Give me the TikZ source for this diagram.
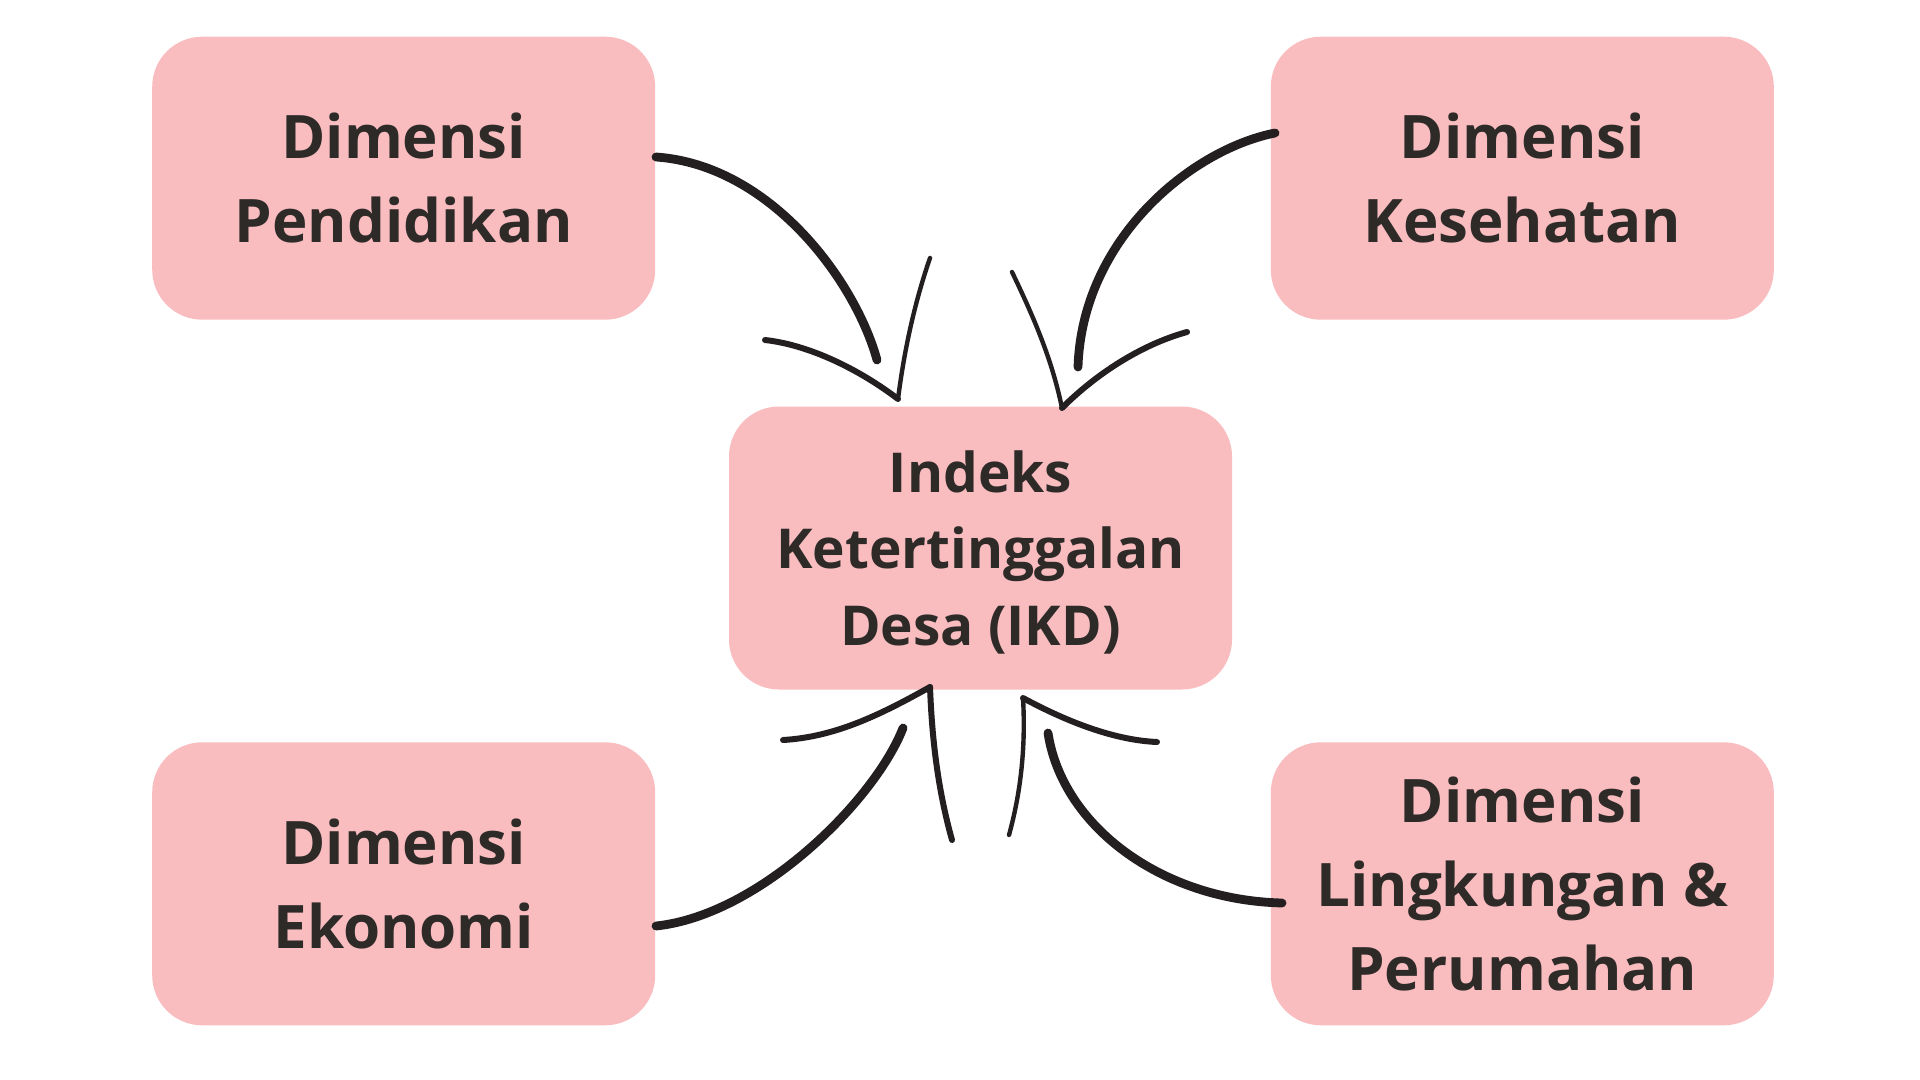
\documentclass[tikz,border=0pt]{standalone}
\usepackage{fontspec}
\setmainfont{Open Sans}
\usepackage{tikz}
\usetikzlibrary{positioning}
\definecolor{boxpink}{RGB}{249, 189, 192}
\definecolor{textdark}{RGB}{45, 42, 40}
\definecolor{inkblack}{RGB}{35, 31, 32}

\begin{document}
\begin{tikzpicture}[
    x=0.5pt, y=-0.5pt,
    dimbox/.style={rectangle, fill=boxpink, rounded corners=25pt, inner sep=0pt, minimum width=251.5pt, minimum height=141.5pt, align=center, text=textdark, font=\fontsize{30}{42}\selectfont\bfseries},
    ikdbox/.style={dimbox, font=\fontsize{27.5}{38.3}\selectfont\bfseries},
    shaft/.style={draw=inkblack, line width=4.4pt, line cap=round},
    barb/.style={draw=inkblack, line width=3pt, line cap=round},
    thinbarb/.style={barb, line width=2.2pt}
  ]
    \useasboundingbox (0,0) rectangle (1920,1080);

    \node (ikd) [ikdbox] at (980.5,548) {\rule{0pt}{25pt}Indeks\\Ketertinggalan\\Desa (IKD)};
    \node (pend) [dimbox, above left=43pt and 36.5pt of ikd] {Dimensi\\Pendidikan};
    \node (kes) [dimbox, above right=43pt and 19pt of ikd] {Dimensi\\Kesehatan};
    \node (eko) [dimbox, below left=26pt and 36.5pt of ikd] {Dimensi\\Ekonomi};
    \node (ling) [dimbox, below right=26pt and 19pt of ikd] {Dimensi\\Lingkungan \&\\Perumahan};

    % arrow starts and tips
    \coordinate (pend-out) at (656,157);
    \coordinate (kes-out) at (1275,133);
    \coordinate (eko-out) at (656,926);
    \coordinate (ling-out) at (1282,903);
    \coordinate (tip-pend) at (898,399);
    \coordinate (tip-kes) at (1062,408);
    \coordinate (tip-eko) at (930,687);
    \coordinate (tip-ling) at (1023,698);

    % Pendidikan
    \draw[shaft] (pend-out) .. controls (770,165) and (855,280) .. (877,360);
    \draw[barb] (765,340) .. controls (810,345) and (860,370) .. (tip-pend);
    \draw[thinbarb] (tip-pend) .. controls (903,360) and (912,310) .. (930,258);

    % Kesehatan
    \draw[shaft] (kes-out) .. controls (1190,150) and (1082,240) .. (1078,367);
    \draw[thinbarb] (1012,272) .. controls (1035,320) and (1052,360) .. (tip-kes);
    \draw[barb] (tip-kes) .. controls (1095,375) and (1140,345) .. (1187,332);

    % Ekonomi
    \draw[shaft] (eko-out) .. controls (760,915) and (875,800) .. (903,728);
    \draw[barb] (783,740) .. controls (835,737) and (880,715) .. (tip-eko);
    \draw[barb] (tip-eko) .. controls (932,740) and (938,790) .. (952,840);

    % Lingkungan & Perumahan
    \draw[shaft] (ling-out) .. controls (1160,900) and (1062,825) .. (1048,733);
    \draw[thinbarb] (1009,835) .. controls (1020,795) and (1026,750) .. (tip-ling);
    \draw[barb] (tip-ling) .. controls (1060,718) and (1110,740) .. (1157,742);
  \end{tikzpicture}
\end{document}
